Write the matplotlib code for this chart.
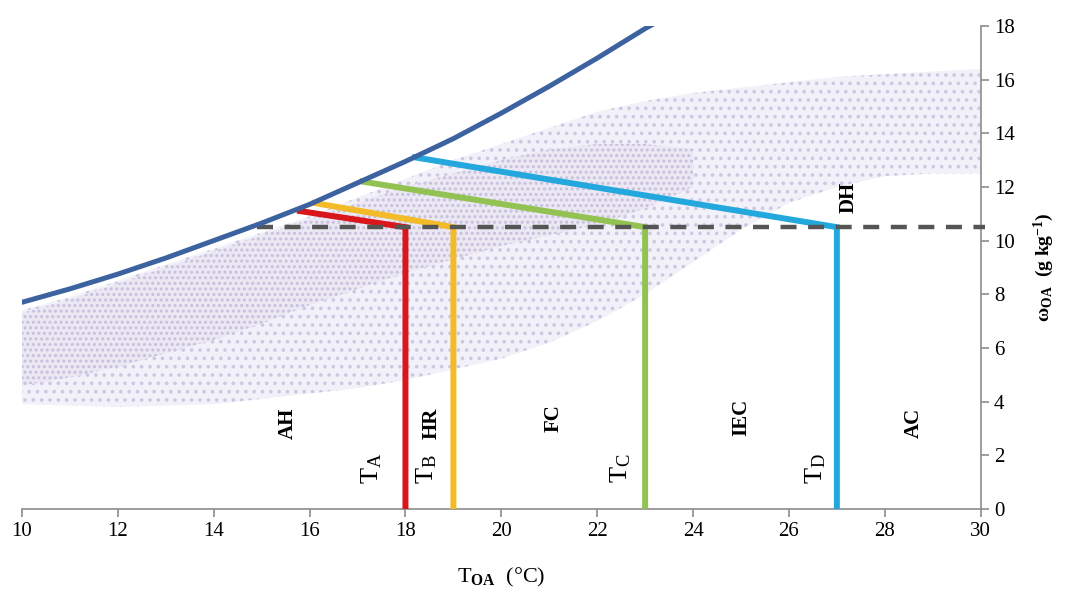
import matplotlib
matplotlib.use("Agg")
import matplotlib.pyplot as plt

plt.rcParams['font.family'] = ['Liberation Serif', 'DejaVu Serif']
plt.rcParams['mathtext.fontset'] = 'custom'
plt.rcParams['mathtext.rm'] = 'Liberation Serif'
plt.rcParams['mathtext.bf'] = 'Liberation Serif:bold'
plt.rcParams['mathtext.it'] = 'Liberation Serif:italic'
plt.rcParams['hatch.linewidth'] = 1.4

# saturation curve
sat_t = [10, 11, 12, 13, 14, 15, 16, 17, 18, 19, 20, 21, 22, 23, 23.4]
sat_w = [7.7, 8.2, 8.75, 9.35, 10.0, 10.65, 11.35, 12.15, 12.95, 13.8, 14.75, 15.75, 16.8, 17.9, 18.3]

# envelope of the outdoor-air point cloud
cloud_t = [10, 11, 12, 13, 14, 15, 16, 17, 18, 19, 20, 21, 22, 23, 24, 25, 26, 27, 28, 29, 30]
cloud_hi = [7.4, 7.9, 8.5, 9.1, 9.7, 10.3, 10.9, 11.6, 12.3, 13.0, 13.6, 14.2, 14.8, 15.2, 15.5,
            15.7, 15.9, 16.1, 16.2, 16.3, 16.4]
cloud_lo = [3.9, 3.85, 3.8, 3.85, 3.9, 4.1, 4.3, 4.5, 4.8, 5.2, 5.6, 6.2, 7.0, 8.0, 9.2,
            10.4, 11.4, 12.0, 12.4, 12.5, 12.5]
# denser part of the cloud
core_t = [10, 11, 12, 13, 14, 15, 16, 17, 18, 19, 20, 21, 22, 23, 24]
core_hi = [7.3, 7.8, 8.4, 9.0, 9.6, 10.2, 10.8, 11.4, 12.0, 12.5, 13.0, 13.4, 13.6, 13.6, 13.4]
core_lo = [4.6, 4.9, 5.3, 5.8, 6.3, 6.9, 7.6, 8.2, 8.8, 9.3, 9.8, 10.2, 10.6, 11.2, 12.0]

# process lines: start on saturation curve, end on the 10.5 g/kg line, then drop to 0
line_names = ['A', 'B', 'C', 'D']
line_start_t = [15.8, 16.1, 17.1, 18.2]
line_start_w = [11.1, 11.4, 12.2, 13.1]
line_end_t = [18, 19, 23, 27]
line_colors = ['#d9161c', '#f3bb27', '#92c352', '#23a8de']
w_limit = 10.5
dash_start = 14.9

zone_labels = ['AH', 'HR', 'FC', 'IEC', 'DH', 'AC']
zone_x = [15.55, 18.55, 21.1, 25.0, 27.25, 28.6]
zone_y = [3.2, 3.2, 3.4, 3.4, 11.6, 3.2]
tlabel_x = [17.3, 18.45, 22.5, 26.55]

fig = plt.figure(figsize=(10.67, 5.89), dpi=100)
ax = fig.add_axes([0.0206, 0.136, 0.8985, 0.82])

ax.fill_between(cloud_t, cloud_lo, cloud_hi, facecolor='#f2f0f8', edgecolor='#cdc8e2',
                hatch='..', linewidth=0, zorder=1)
ax.fill_between(core_t, core_lo, core_hi, facecolor='#ebe8f4', edgecolor='#c6c0dc',
                hatch='...', linewidth=0, zorder=1)

ax.plot([dash_start, 30.1], [w_limit, w_limit], color='#555555', lw=3.2,
        dashes=(3.6, 2.6), zorder=4, clip_on=False)

for i in range(len(line_names)):
    ax.plot([line_start_t[i], line_end_t[i], line_end_t[i]],
            [line_start_w[i], w_limit, 0], color=line_colors[i], lw=4.3,
            solid_joinstyle='miter', zorder=3)

ax.plot(sat_t, sat_w, color='#3c62a0', lw=3.6, zorder=5, solid_capstyle='round')

for name, x in zip(line_names, tlabel_x):
    ax.text(x, 1.5, r'T$_{\mathrm{%s}}$' % name, rotation=90, fontsize=19,
            ha='center', va='center')
for lab, x, y in zip(zone_labels, zone_x, zone_y):
    ax.text(x, y, lab, rotation=90, fontsize=15, fontweight='bold',
            ha='center', va='center')

ax.set_xlim(10, 30)
ax.set_ylim(0, 18)
ax.set_xticks(range(10, 31, 2))
ax.set_yticks(range(0, 19, 2))
ax.yaxis.tick_right()
ax.yaxis.set_label_position('right')
for s in ['left', 'top']:
    ax.spines[s].set_visible(False)
for s in ['bottom', 'right']:
    ax.spines[s].set_color('#8c8c8c')
    ax.spines[s].set_linewidth(1.2)
ax.tick_params(colors='#8c8c8c', labelcolor='black', labelsize=15, length=6, width=1.2)
ax.set_xlabel(r'T$_{\mathbf{OA}}$  (°C)', fontsize=16, labelpad=18)
ax.set_ylabel(r'$\mathbf{\omega_{OA}}$  $\mathbf{(g\ kg^{-1})}$', fontsize=14, labelpad=12)

fig.savefig('out.png', dpi=100)
